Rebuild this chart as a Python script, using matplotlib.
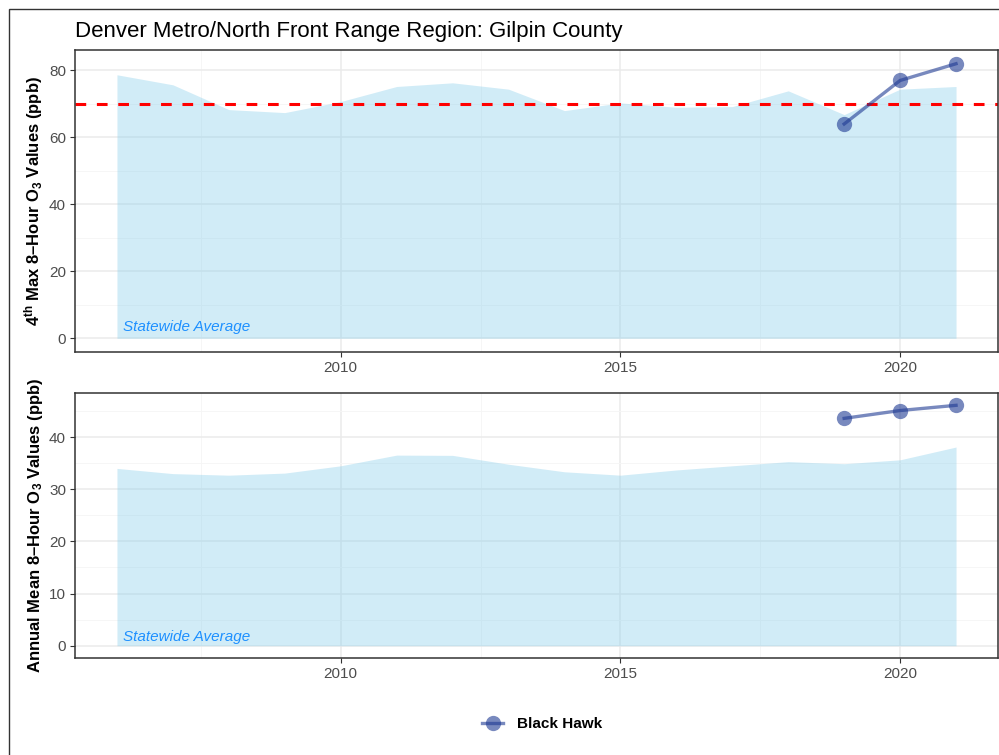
import matplotlib
matplotlib.use("Agg")
import matplotlib.pyplot as plt
from matplotlib.lines import Line2D
from matplotlib.patches import Rectangle

plt.rcParams['font.family'] = ['Liberation Sans', 'DejaVu Sans']
plt.rcParams['mathtext.fontset'] = 'custom'
plt.rcParams['mathtext.rm'] = 'Liberation Sans'
plt.rcParams['mathtext.bf'] = 'Liberation Sans:bold'
plt.rcParams['mathtext.it'] = 'Liberation Sans:italic'

years = list(range(2006, 2022))
state_4th_max = [78.7, 75.7, 68.3, 67.4, 70.7, 75.2, 76.3, 74.4,
                 68.0, 70.3, 69.0, 69.2, 73.9, 66.8, 74.4, 75.2]
state_annual_mean = [34.0, 33.0, 32.7, 33.1, 34.5, 36.55, 36.5, 34.8,
                     33.35, 32.7, 33.7, 34.5, 35.3, 34.9, 35.65, 38.1]

site_name = 'Black Hawk'
site_years = [2019, 2020, 2021]
site_4th_max = [64, 77, 82]
site_annual_mean = [43.6, 45.1, 46.1]

naaqs = 70

area_col = '#87CEEB'
site_col = '#1F3A93'
grid_major = '#EBEBEB'
grid_minor = '#F5F5F5'

fig = plt.figure(figsize=(9.99, 7.55), dpi=100)
W, H = 999, 755
ax1 = fig.add_axes([75 / W, 1 - 352 / H, 923 / W, 302 / H])
ax2 = fig.add_axes([75 / W, 1 - 657.7 / H, 923 / W, 264.4 / H])

# outer plot border (left and top edges visible)
fig.patches.append(Rectangle((9 / W, -0.02), 1.05, 1 - 9 / H + 0.02,
                             transform=fig.transFigure, fill=False,
                             edgecolor='#333333', linewidth=1.0))


def style(ax, yvals, ymajor, yminor):
    lo, hi = 0, max(yvals)
    pad = (hi - lo) * 0.05
    ax.set_ylim(lo - pad, hi + pad)
    ax.set_xlim(2006 - 0.75, 2021 + 0.75)
    ax.set_yticks(ymajor)
    ax.set_yticks(yminor, minor=True)
    ax.set_xticks([2010, 2015, 2020])
    ax.set_xticks([2007.5, 2012.5, 2017.5], minor=True)
    ax.grid(which='major', color=grid_major, linewidth=1.1, zorder=0)
    ax.grid(which='minor', color=grid_minor, linewidth=0.6, zorder=0)
    ax.set_axisbelow(True)
    ax.tick_params(which='major', length=3.5, width=0.8, color='#333333',
                   labelsize=11, labelcolor='#4D4D4D', pad=3)
    ax.tick_params(which='minor', length=0)
    for s in ax.spines.values():
        s.set_color('#333333')
        s.set_linewidth(1.1)


# top panel: 4th max
ax1.fill_between(years, 0, state_4th_max, color=area_col, alpha=0.38,
                 linewidth=0, zorder=1)
ax1.axhline(naaqs, color='#FF0000', linestyle=(0, (3.5, 3.5)), linewidth=2.2, zorder=2)
ax1.plot(site_years, site_4th_max, color=site_col, alpha=0.6, linewidth=2.4,
         marker='o', markersize=11, markeredgewidth=0, zorder=3)
ax1.text(2006.1, 1.3, 'Statewide Average', color='#1E90FF', style='italic',
         fontsize=11, va='bottom', ha='left', zorder=4)
style(ax1, site_4th_max, [0, 20, 40, 60, 80], [10, 30, 50, 70])
ax1.set_ylabel(r'4$^{\mathbf{th}}$ Max 8–Hour O$_{\mathbf{3}}$ Values (ppb)',
               fontsize=12, fontweight='bold')
ax1.yaxis.set_label_coords(-0.032, 0.5)
ax1.set_title('Denver Metro/North Front Range Region: Gilpin County',
              loc='left', fontsize=16, pad=9)

# bottom panel: annual mean
ax2.fill_between(years, 0, state_annual_mean, color=area_col, alpha=0.38,
                 linewidth=0, zorder=1)
ax2.plot(site_years, site_annual_mean, color=site_col, alpha=0.6, linewidth=2.4,
         marker='o', markersize=11, markeredgewidth=0, zorder=3)
ax2.text(2006.1, 0.4, 'Statewide Average', color='#1E90FF', style='italic',
         fontsize=11, va='bottom', ha='left', zorder=4)
style(ax2, site_annual_mean, [0, 10, 20, 30, 40], [5, 15, 25, 35, 45])
ax2.set_ylabel(r'Annual Mean 8–Hour O$_{\mathbf{3}}$ Values (ppb)',
               fontsize=12, fontweight='bold')
ax2.yaxis.set_label_coords(-0.032, 0.5)

handle = Line2D([], [], color=site_col, alpha=0.6, linewidth=2.4, marker='o',
                markersize=11, markeredgewidth=0)
leg = fig.legend([handle], [site_name], loc='center',
                 bbox_to_anchor=(542 / W, 1 - 724 / H),
                 frameon=False, handlelength=1.4, handletextpad=0.9,
                 prop={'weight': 'bold', 'size': 11})

fig.savefig('out.png', dpi=100)
